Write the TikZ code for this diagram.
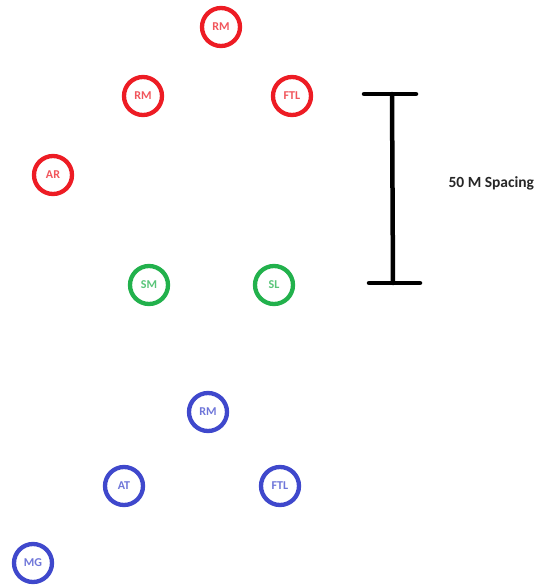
\documentclass[tikz,border=0pt]{standalone}
\usepackage{fontspec}
\setmainfont{Carlito}
\usepackage{tikz}
\usetikzlibrary{positioning}
\definecolor{pred}{RGB}{237,28,36}
\definecolor{pgrn}{RGB}{34,177,76}
\definecolor{pblu}{RGB}{63,72,204}

\begin{document}
\begin{tikzpicture}[x=1pt,y=-1pt,font=\fontsize{12}{13}\selectfont\bfseries,
 plr/.style={circle,draw=#1,line width=4.3pt,minimum size=38pt,inner sep=0pt,text=#1!75!white,fill=white},
 bar/.style={line width=4.5pt,line cap=round}]
\useasboundingbox (0,0) rectangle (540,587);
% red side
\node[plr=pred] (rm1) at (221,27) {RM};
\node[plr=pred] (rm2) at (143,96) {RM};\node[plr=pred] (ftl1) at (292,96) {FTL};
\node[plr=pred] (ar) at (53,175) {AR};
% green side
\node[plr=pgrn] (sm) at (149,285) {SM};\node[plr=pgrn] (sl) at (274,285) {SL};
% blue side
\node[plr=pblu] (rm3) at (208,412) {RM};
\node[plr=pblu] (at) at (124,486) {AT};\node[plr=pblu] (ftl2) at (280,486) {FTL};
\node[plr=pblu] (mg) at (33,563) {MG};
% spacing bar
\coordinate (tl) at (364,94);\coordinate (tr) at (416,94);\coordinate (tm) at (392,94);
\coordinate (bl) at (369,283);\coordinate (br) at (420,283);\coordinate (bm) at (393,283);
\draw[bar] (tl)--(tr);\draw[bar] (bl)--(br);\draw[bar] (tm)--(bm);
\node[anchor=west,font=\fontsize{15.5}{17}\selectfont\bfseries,text=black!85] (sp) at (445,183) {50 M Spacing};
\end{tikzpicture}
\end{document}
